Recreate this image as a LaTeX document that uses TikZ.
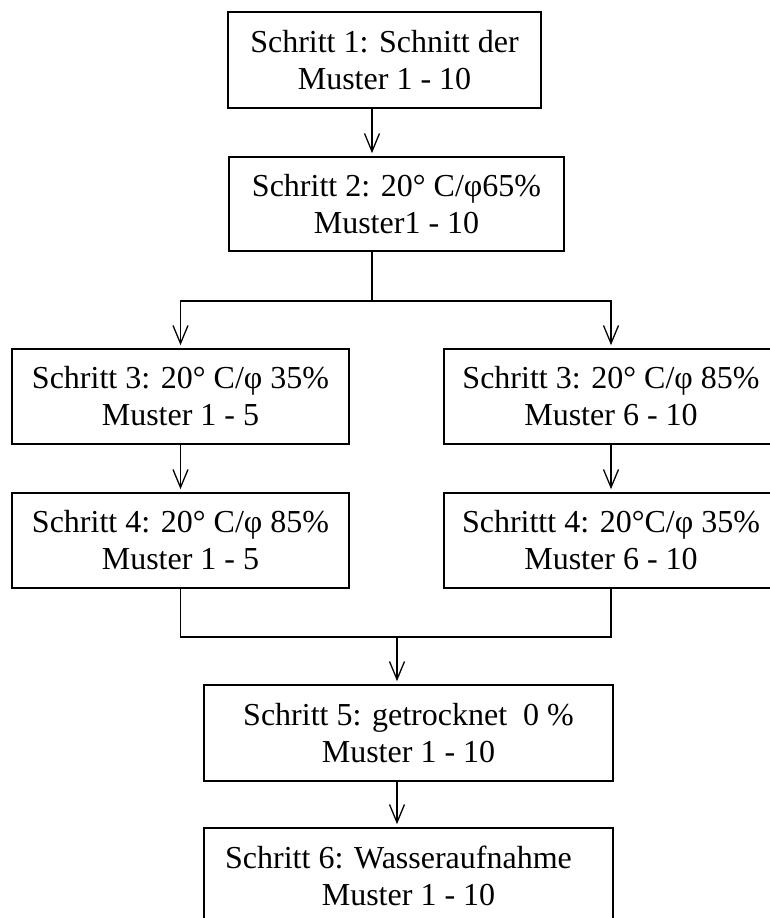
\documentclass[tikz,border=0pt]{standalone}
\usepackage{fontspec}
\setmainfont{Liberation Serif}
\usetikzlibrary{arrows.meta}
\begin{document}
\begin{tikzpicture}[x=1pt,y=-1pt,
  stepbox/.style={draw,line width=1.7pt,inner sep=0pt,align=center,
    minimum height=95pt,font=\fontsize{32}{37}\selectfont},
  link/.style={line width=1.3pt},
  arr/.style={link,-{Straight Barb[length=18pt,width=15pt,line width=1.3pt]},shorten >=3pt}]
\useasboundingbox[fill=white] (0,0) rectangle (770,918);

% process steps
\node[stepbox,minimum width=313pt,minimum height=96pt] (b1) at (384.5,60)
  {Schritt 1: Schnitt der\\Muster 1 - 10};
\node[stepbox,minimum width=335pt,minimum height=94pt] (b2) at (396.5,204)
  {Schritt 2: 20° C/φ65\%\\Muster1 - 10};
\node[stepbox,minimum width=337pt] (b3l) at (180.5,396.5)
  {Schritt 3: 20° C/φ 35\%\\Muster 1 - 5};
\node[stepbox,minimum width=334pt] (b3r) at (611,396.5)
  {Schritt 3: 20° C/φ 85\%\\Muster 6 - 10};
\node[stepbox,minimum width=337pt] (b4l) at (180.5,540.5)
  {Schritt 4: 20° C/φ 85\%\\Muster 1 - 5};
\node[stepbox,minimum width=334pt] (b4r) at (611,540.5)
  {Schrittt 4: 20°C/φ 35\%\\Muster 6 - 10};
\node[stepbox,minimum width=409pt,minimum height=96pt] (b5) at (408.5,733)
  {Schritt 5: getrocknet\ \ 0 \%\\Muster 1 - 10};
\node[stepbox,minimum width=409pt,minimum height=96pt] (b6) at (408.5,876)
  {Schritt 6: Wasseraufnahme\hspace*{20pt}\\Muster 1 - 10};

% junction points
\coordinate (split) at (372,301);
\coordinate (merge) at (397,637);

% connectors
\draw[arr] ([xshift=-12.5pt]b1.south) -- ([xshift=-12.5pt]b1.south |- b2.north);
\draw[link] (b2.south -| split) -- (split);
\draw[arr] (split) -| (b3l.north);
\draw[arr] (split) -| (b3r.north);
\draw[arr] (b3l.south) -- (b4l.north);
\draw[arr] (b3r.south) -- (b4r.north);
\draw[link] (b4l.south) |- (b4r.south |- merge) -- (b4r.south);
\draw[arr] (merge) -- (merge |- b5.north);
\draw[arr] (merge |- b5.south) -- (merge |- b6.north);
\end{tikzpicture}
\end{document}
